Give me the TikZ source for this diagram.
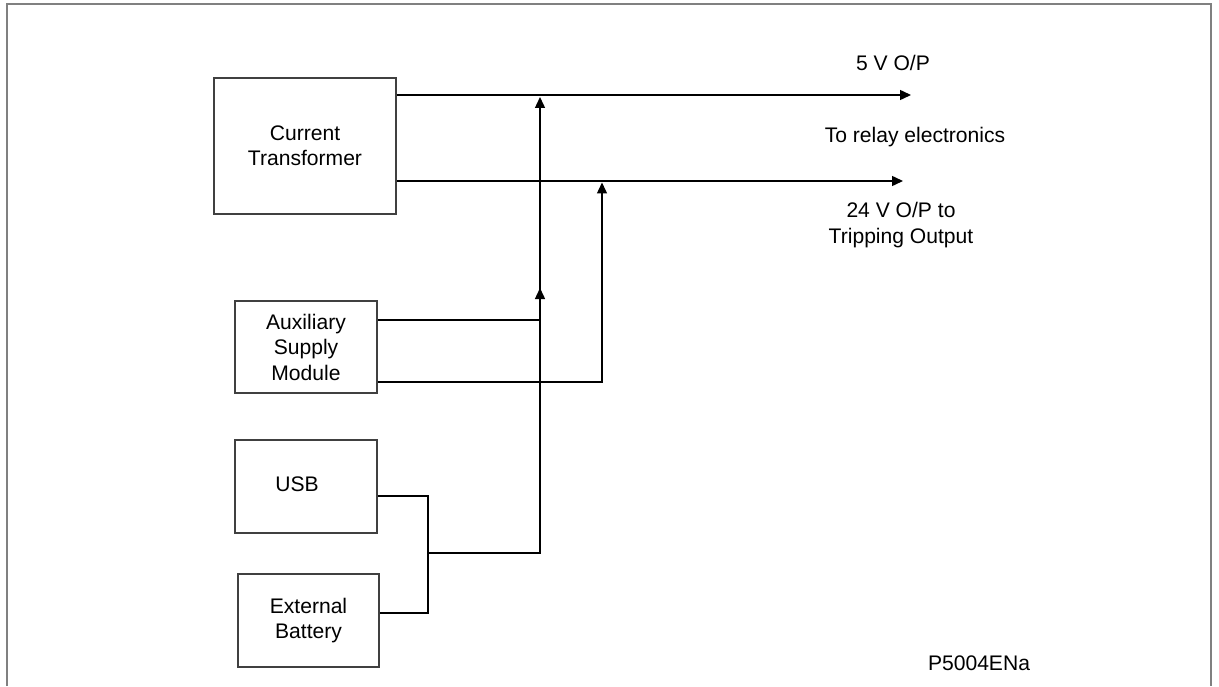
\documentclass[tikz,border=0pt]{standalone}
\usepackage{fontspec}
\setmainfont{Liberation Sans}
\usetikzlibrary{arrows.meta}
\begin{document}
\begin{tikzpicture}[x=0.02cm,y=-0.02cm,
  every node/.style={font=\fontsize{12}{14.5}\selectfont,align=center,inner sep=0pt},
  block/.style={draw=black!75,line width=1pt,rectangle},
  wire/.style={draw,line width=0.8pt},
  arr/.style={wire,-{Triangle[length=0.22cm,width=0.2cm]}}
  ]
\useasboundingbox (0,0) rectangle (1219,686);
\draw[gray,line width=1.4pt] (7,686) -- (7,4) -- (1211,4) -- (1211,686);
% blocks
\node[block,minimum width=3.64cm,minimum height=2.72cm] (ct) at (305,146) {Current\\Transformer};
\node[block,minimum width=2.84cm,minimum height=1.84cm] (aux) at (306,347) {Auxiliary\\Supply\\Module};
\node[block,minimum width=2.84cm,minimum height=1.86cm] (usb) at (306,486.5) {};
\node (usbtxt) at (297,484) {USB};
\node[block,minimum width=2.82cm,minimum height=1.86cm] (bat) at (308.5,620.5) {External\\Battery};
% outputs
\coordinate (out5) at (911,95);
\coordinate (out24) at (903,181);
\node (lbl5) at (893,63) {5 V O/P};
\node (lblrelay) at (915,137) {To relay electronics};
\node (lbl24) at (901,225) {24 V O/P to\\Tripping Output};
\node (figid) at (979,663) {P5004ENa};
\draw[arr] (ct.east |- out5) -- (out5);
\draw[arr] (ct.east |- out24) -- (out24);
% supplies
\coordinate (usbj) at (428,553);
\coordinate (tip1) at (540,97);
\coordinate (tip2) at (602,182.5);
\draw[wire] (usb.east |- 0,496) -| (usbj) |- (bat.east |- 0,613);
\draw[arr] (usbj) -| (tip1);
\draw[arr] (aux.east |- 0,320) -| (540,288);
\draw[arr] (aux.east |- 0,382) -| (tip2);
\end{tikzpicture}
\end{document}
